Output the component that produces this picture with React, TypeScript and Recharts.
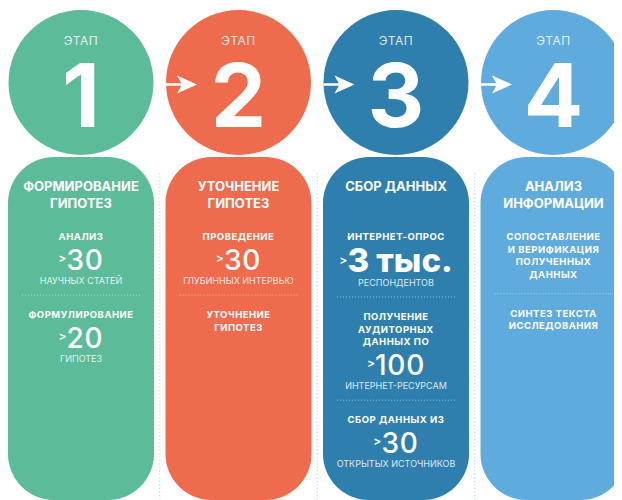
import { BarChart, Bar, XAxis, YAxis } from 'recharts';

// stage numbers and their colours
const stages = ['1', '2', '3', '4'];
const stageWord = 'ЭТАП';
const stageColors = ['#5cbb98', '#ee6b4d', '#2e7fae', '#60abde'];
const stageTitles = [
    ['ФОРМИРОВАНИЕ', 'ГИПОТЕЗ'],
    ['УТОЧНЕНИЕ', 'ГИПОТЕЗ'],
    ['СБОР ДАННЫХ'],
    ['АНАЛИЗ', 'ИНФОРМАЦИИ'],
];
// every column runs down to the bottom of the picture
const columnLength = [100, 100, 100, 100];

type Block = { head: string[]; value?: string; caption?: string };

const stageBlocks: Block[][] = [
    [
        { head: ['АНАЛИЗ'], value: '>30', caption: 'НАУЧНЫХ СТАТЕЙ' },
        { head: ['ФОРМУЛИРОВАНИЕ'], value: '>20', caption: 'ГИПОТЕЗ' },
    ],
    [
        { head: ['ПРОВЕДЕНИЕ'], value: '>30', caption: 'ГЛУБИННЫХ ИНТЕРВЬЮ' },
        { head: ['УТОЧНЕНИЕ', 'ГИПОТЕЗ'] },
    ],
    [
        { head: ['ИНТЕРНЕТ-ОПРОС'], value: '>3 тыс.', caption: 'РЕСПОНДЕНТОВ' },
        { head: ['ПОЛУЧЕНИЕ', 'АУДИТОРНЫХ', 'ДАННЫХ ПО'], value: '>100', caption: 'ИНТЕРНЕТ-РЕСУРСАМ' },
        { head: ['СБОР ДАННЫХ ИЗ'], value: '>30', caption: 'ОТКРЫТЫХ ИСТОЧНИКОВ' },
    ],
    [
        { head: ['СОПОСТАВЛЕНИЕ', 'И ВЕРИФИКАЦИЯ', 'ПОЛУЧЕННЫХ', 'ДАННЫХ'] },
        { head: ['СИНТЕЗ ТЕКСТА', 'ИССЛЕДОВАНИЯ'] },
    ],
];

const data = stages.map((stage, i) => ({ stage, length: columnLength[i] }));

const FONT = 'Inter, "Open Sans", sans-serif';
const CHART_W = 630;
const BAR_W = 146;
const GAP = (CHART_W / stages.length - BAR_W) / 2;

function renderBlocks(blocks: Block[], cx: number, startY: number, halfW: number) {
    const out: any[] = [];
    let cur = startY;
    blocks.forEach((b, bi) => {
        let last = cur;
        b.head.forEach((line, li) => {
            last = cur + li * 12.6;
            out.push(
                <text key={`h${bi}-${li}`} x={cx} y={last} textAnchor="middle" fill="#fff"
                    fontFamily={FONT} fontSize={9.5} fontWeight={700} letterSpacing={0.5}>
                    {line}
                </text>
            );
        });
        let end = last;
        if (b.value) {
            const big = b.value.includes('тыс');
            const vy = last + (big ? 32 : 30);
            out.push(
                <text key={`v${bi}`} x={cx} y={vy} textAnchor="middle" fill="#fff" fontFamily={FONT}>
                    <tspan fontSize={12} fontWeight={600} dy={-8}>{b.value.slice(0, 1)}</tspan>
                    <tspan fontSize={big ? 33 : 28} fontWeight={big ? 800 : 500}
                        letterSpacing={big ? 0 : 0.8} dy={8}>{b.value.slice(1)}</tspan>
                </text>
            );
            out.push(
                <text key={`c${bi}`} x={cx} y={vy + 14} textAnchor="middle" fill="#fff" fillOpacity={0.85}
                    fontFamily={FONT} fontSize={9} fontWeight={400}>
                    {b.caption}
                </text>
            );
            end = vy + 14;
        }
        if (bi < blocks.length - 1) {
            const sy = end + (b.value ? 11 : 16);
            out.push(
                <line key={`s${bi}`} x1={cx - halfW} x2={cx + halfW} y1={sy} y2={sy}
                    stroke="#fff" strokeOpacity={0.5} strokeWidth={1} strokeDasharray="1 2" />
            );
            cur = sy + 23;
        }
    });
    return out;
}

function StageShape(props: any) {
    const { x, y, width, height, index } = props;
    const fill = stageColors[index];
    const cx = x + width / 2;
    const r = 46;
    const bottom = y + height;
    const pill = `M${x},${y + r} A${r},${r} 0 0 1 ${x + r},${y} L${x + width - r},${y} A${r},${r} 0 0 1 ${x + width},${y + r} L${x + width},${bottom - r} A${r},${r} 0 0 1 ${x + width - r},${bottom} L${x + r},${bottom} A${r},${r} 0 0 1 ${x},${bottom - r} Z`;
    const cr = width / 2 - 0.5;
    const cy = y - 74.5;
    const left = cx - cr;
    const ay = cy + 2;

    return (
        <g>
            {index > 0 && (
                <line x1={x - GAP} x2={x - GAP} y1={y + 16} y2={bottom}
                    stroke="#a8d3cf" strokeWidth={1} strokeDasharray="1 2.5" />
            )}
            <circle cx={cx} cy={cy} r={cr} fill={fill} />
            <path d={pill} fill={fill} />
            <text x={cx} y={cy - 37.5} textAnchor="middle" fill="#fff" fillOpacity={0.85}
                fontFamily={FONT} fontSize={12} letterSpacing={0.5}>
                {stageWord}
            </text>
            <text x={cx} y={cy + 44.5} textAnchor="middle" fill="#fff"
                fontFamily={FONT} fontSize={88} fontWeight={700}>
                {stages[index]}
            </text>
            {index > 0 && (
                <g>
                    <line x1={left} x2={left + 22} y1={ay} y2={ay} stroke="#fff" strokeWidth={2.5} />
                    <path d={`M${left + 31},${ay} L${left + 11},${ay - 9} L${left + 16},${ay} L${left + 11},${ay + 9} Z`} fill="#fff" />
                </g>
            )}
            {stageTitles[index].map((t, i) => (
                <text key={t + i} x={cx} y={y + 34 + i * 16.5} textAnchor="middle" fill="#fff"
                    fontFamily={FONT} fontSize={13} fontWeight={700}>
                    {t}
                </text>
            ))}
            {renderBlocks(stageBlocks[index], cx, y + 83, 59)}
        </g>
    );
}

export default function App() {
    return (
        <div style={{ width: 614, height: 492, overflow: 'hidden', background: '#fff' }}>
            <div style={{ marginLeft: -6 }}>
                <BarChart
                    width={CHART_W}
                    height={492}
                    data={data}
                    margin={{ top: 149, right: 0, bottom: 0, left: 0 }}
                >
                    <XAxis dataKey="stage" hide />
                    <YAxis domain={[0, 100]} hide />
                    <Bar dataKey="length" barSize={BAR_W} shape={<StageShape />} isAnimationActive={false} />
                </BarChart>
            </div>
        </div>
    );
}
